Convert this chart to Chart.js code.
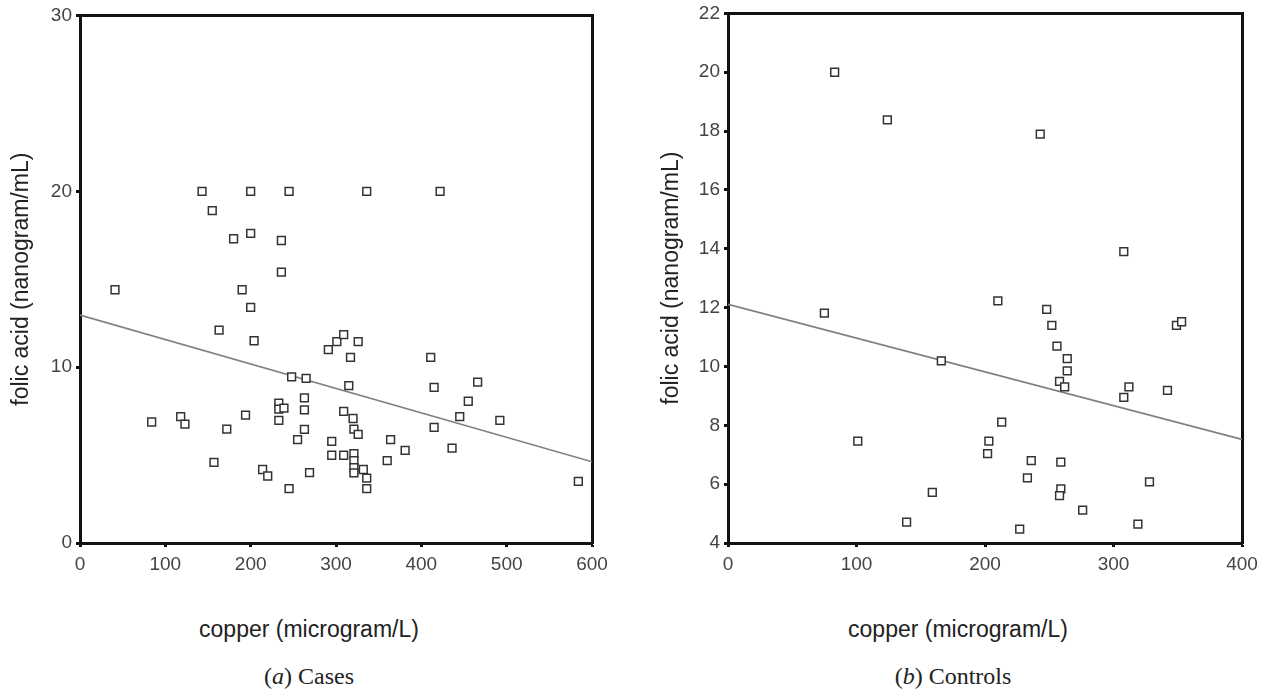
<!DOCTYPE html>
<html>
<head>
<meta charset="utf-8">
<script src="https://cdn.jsdelivr.net/npm/chart.js@4"></script>
<style>
  body { margin: 0; background: #fff; width: 1267px; height: 691px; position: relative; overflow: hidden; }
  canvas { position: absolute; }
  .xt { position: absolute; font-family: "Liberation Sans", Arial, sans-serif; font-size: 23px; color: #222; white-space: nowrap; transform: translate(-50%, -50%); }
  .cap { position: absolute; font-family: "Liberation Serif", "Times New Roman", serif; font-size: 24px; color: #222; white-space: nowrap; transform: translate(-50%, -50%); }
</style>
</head>
<body>
<canvas id="chartCases" style="left:0px;top:0px;width:620px;height:600px"></canvas>
<canvas id="chartControls" style="left:640px;top:-2px;width:627px;height:600px"></canvas>
<div class="xt" style="left:309px;top:629px">copper (microgram/L)</div>
<div class="xt" style="left:958px;top:629px">copper (microgram/L)</div>
<div class="cap" style="left:309px;top:676px">(<i>a</i>) Cases</div>
<div class="cap" style="left:953px;top:676px">(<i>b</i>) Controls</div>
<script>
// Datos: casos
const casesCopper = [143, 200, 245, 336, 422, 155, 180, 200, 236, 236, 41, 190, 200, 163, 204,
    291, 301, 309, 326, 317, 411, 248, 265, 315, 415, 466, 263, 455, 233, 233, 239, 263, 309,
    118, 194, 445, 320, 492, 84, 123, 233, 172, 263, 321, 326, 415, 255, 295, 364, 381, 436,
    295, 309, 321, 321, 360, 157, 214, 220, 269, 321, 332, 321, 336, 336, 245, 584];
const casesFolic = [20, 20, 20, 20, 20, 18.9, 17.3, 17.6, 17.2, 15.4, 14.4, 14.4, 13.4, 12.1, 11.5,
    11.0, 11.45, 11.85, 11.45, 10.55, 10.55, 9.44, 9.36, 8.95, 8.85, 9.15, 8.25, 8.06, 7.95, 7.61,
    7.67, 7.57, 7.48, 7.18, 7.27, 7.18, 7.08, 6.97, 6.88, 6.76, 6.97, 6.48, 6.46, 6.48, 6.18,
    6.57, 5.88, 5.78, 5.88, 5.27, 5.39, 4.99, 4.99, 5.08, 4.69, 4.69, 4.58, 4.18, 3.81, 4.0,
    4.29, 4.18, 3.99, 3.69, 3.09, 3.09, 3.5];
const casesFitX = [0, 600];
const casesFitY = [12.96, 4.62];
const casesXRange = [0, 600, 100];
const casesYRange = [0, 30, 10];

// Datos: controles
const controlsCopper = [83, 124, 243, 308, 210, 75, 166, 101, 159, 139, 248, 252, 256, 264, 264,
    258, 262, 312, 308, 342, 349, 353, 213, 203, 202, 236, 233, 259, 259, 258, 276, 227, 319, 328];
const controlsFolic = [20, 18.38, 17.9, 13.9, 12.23, 11.81, 10.19, 7.46, 5.72, 4.71, 11.94, 11.4,
    10.69, 10.27, 9.85, 9.49, 9.31, 9.31, 8.95, 9.19, 11.4, 11.52, 8.11, 7.46, 7.04, 6.8, 6.21,
    6.75, 5.84, 5.61, 5.12, 4.47, 4.64, 6.08];
const controlsFitX = [0, 400];
const controlsFitY = [12.11, 7.52];
const controlsXRange = [0, 400, 100];
const controlsYRange = [4, 22, 2];

const yTitle = 'folic acid (nanogram/mL)';
const tickFont = { family: '"Liberation Sans", Arial, sans-serif', size: 19 };

function toPoints(xs, ys) {
    return xs.map((x, i) => ({ x: x, y: ys[i] }));
}

function fixed(size, horizontal) {
    return function (scale) {
        if (horizontal) scale.height = size; else scale.width = size;
    };
}

function makeChart(id, xs, ys, fitX, fitY, xr, yr, dims) {
    const axisGrid = {
        display: true, drawOnChartArea: false, drawTicks: true,
        tickLength: 4, tickWidth: 3, tickColor: '#111'
    };
    const frame = {
        display: true,
        grid: { display: false, drawTicks: false },
        border: { display: true, color: '#111', width: 3 },
        ticks: { display: false }
    };
    return new Chart(document.getElementById(id), {
        type: 'scatter',
        data: {
            datasets: [{
                data: toPoints(xs, ys),
                pointStyle: 'rect',
                pointRadius: 5.5,
                pointHoverRadius: 5.5,
                pointBackgroundColor: '#fff',
                pointBorderColor: '#333',
                pointBorderWidth: 1.5,
                order: 1
            }, {
                type: 'line',
                data: toPoints(fitX, fitY),
                borderColor: '#808080',
                borderWidth: 1.6,
                pointRadius: 0,
                fill: false,
                order: 2
            }]
        },
        options: {
            responsive: false,
            animation: false,
            events: [],
            layout: { padding: 0 },
            plugins: { legend: { display: false }, tooltip: { enabled: false } },
            scales: {
                x: {
                    type: 'linear', position: 'bottom',
                    min: xr[0], max: xr[1],
                    ticks: { stepSize: xr[2], color: '#444', font: tickFont, padding: 6 },
                    grid: axisGrid,
                    border: { display: true, color: '#111', width: 3 },
                    afterFit: fixed(dims.bottom, true)
                },
                y: {
                    type: 'linear', position: 'left',
                    min: yr[0], max: yr[1],
                    ticks: { stepSize: yr[2], color: '#444', font: tickFont, padding: 4 },
                    grid: axisGrid,
                    border: { display: true, color: '#111', width: 3 },
                    title: {
                        display: true, text: yTitle, color: '#222',
                        font: { family: '"Liberation Sans", Arial, sans-serif', size: 23 },
                        padding: { top: dims.titlePad, bottom: 0 }
                    },
                    afterFit: fixed(dims.left, false)
                },
                xTop: Object.assign({ type: 'linear', position: 'top', min: xr[0], max: xr[1],
                    afterFit: fixed(dims.top, true) }, frame),
                yRight: Object.assign({ type: 'linear', position: 'right', min: yr[0], max: yr[1],
                    afterFit: fixed(dims.right, false) }, frame)
            }
        }
    });
}

function setup(id, w, h) {
    const c = document.getElementById(id);
    c.width = w; c.height = h;
}

setup('chartCases', 620, 600);
setup('chartControls', 627, 600);

makeChart('chartCases', casesCopper, casesFolic, casesFitX, casesFitY, casesXRange, casesYRange,
    { left: 80, right: 28, top: 12, bottom: 57, titlePad: 8 });
makeChart('chartControls', controlsCopper, controlsFolic, controlsFitX, controlsFitY, controlsXRange, controlsYRange,
    { left: 88, right: 25, top: 12, bottom: 55, titlePad: 18 });
</script>
</body>
</html>
